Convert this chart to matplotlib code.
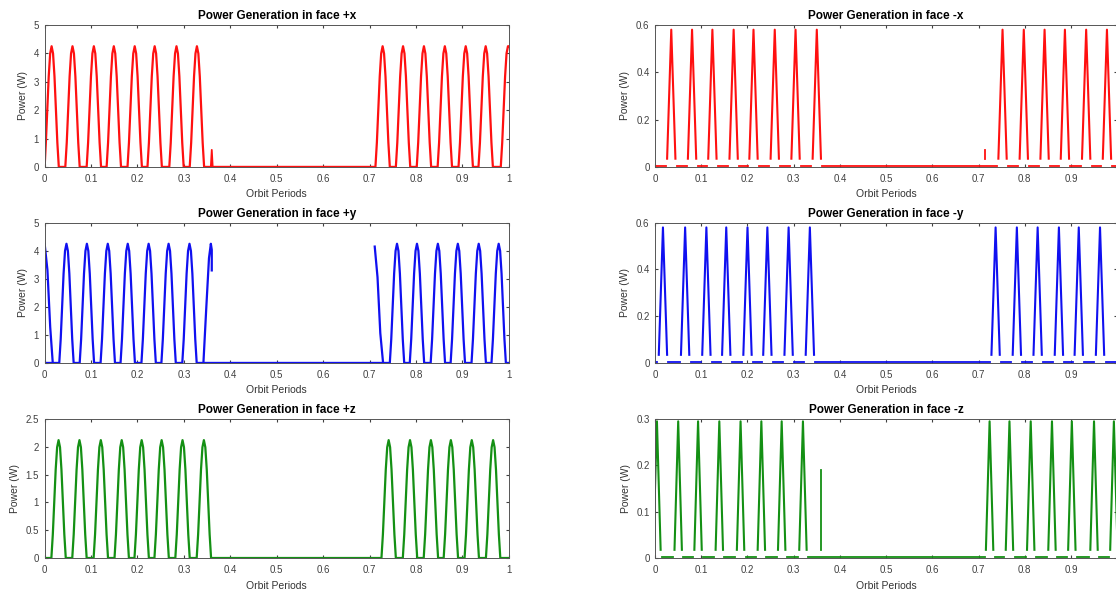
import matplotlib
matplotlib.use("Agg")
import matplotlib.pyplot as plt
import numpy as np

plt.rcParams["font.family"] = ["Liberation Sans", "DejaVu Sans"]

# peak positions (orbit periods)
px_peaks = [0.015, 0.060, 0.106, 0.149, 0.194, 0.237, 0.284, 0.328,
            0.728, 0.772, 0.817, 0.862, 0.907, 0.950, 0.998]
py_peaks = [0.047, 0.091, 0.136, 0.179, 0.224, 0.267, 0.312,
            0.759, 0.802, 0.847, 0.890, 0.935, 0.978]
pz_peaks = [0.030, 0.075, 0.121, 0.166, 0.209, 0.252, 0.297, 0.343,
            0.741, 0.787, 0.832, 0.875, 0.920, 0.966]
mx_peaks = [0.035, 0.080, 0.124, 0.170, 0.213, 0.259, 0.304, 0.350,
            0.752, 0.798, 0.843, 0.887, 0.933, 0.978]
my_peaks = [0.017, 0.065, 0.111, 0.154, 0.200, 0.243, 0.289, 0.335,
            0.737, 0.783, 0.828, 0.874, 0.917, 0.963]
mz_peaks = [0.004, 0.050, 0.093, 0.139, 0.185, 0.230, 0.274, 0.320,
            0.724, 0.767, 0.813, 0.859, 0.902, 0.950, 0.993]

# peak power (W)
px_max, py_max, pz_max = 4.25, 4.25, 2.12
mx_max, my_max, mz_max = 0.58, 0.58, 0.295

# stray partial peaks (x, height)
px_stray = (0.360, 0.6)
mx_stray = (0.715, 0.073)
mz_stray = (0.359, 0.19)

# relative bump profile of one pulse, read from the wide pulses
bump_frac = [0.0, 0.1, 0.2, 0.3, 0.4, 0.5, 0.6, 0.7, 0.8, 0.9, 1.0]
bump_rel = [0.0, 0.2, 0.48, 0.75, 0.94, 1.0, 0.94, 0.75, 0.48, 0.2, 0.0]

xtick_vals = [0, 0.1, 0.2, 0.3, 0.4, 0.5, 0.6, 0.7, 0.8, 0.9, 1.0]
xtick_left = ["0", "0.1", "0.2", "0.3", "0.4", "0.5", "0.6", "0.7", "0.8", "0.9", "1"]
xtick_right = ["0", "0.1", "0.2", "0.3", "0.4", "0.5", "0.6", "0.7", "0.8", "0.9", ""]

RED, BLUE, GREEN = "#ff1010", "#1010f0", "#149014"


def wide_curve(peaks, top, half=0.0155):
    xs, ys = [0.0], [0.0]
    for p in peaks:
        for f, r in zip(bump_frac, bump_rel):
            x = p - half + 2 * half * f
            if 0 <= x <= 1:
                xs.append(x); ys.append(r * top)
    xs.append(1.0); ys.append(ys[-1] if xs[-2] > 0.995 else 0.0)
    return xs, ys


def style(ax, title, yticks, ylim, xlabels):
    ax.set_xlim(0, 1); ax.set_ylim(*ylim)
    ax.set_xticks(xtick_vals)
    ax.set_xticklabels(xlabels)
    ax.set_yticks(yticks)
    ax.set_yticklabels([f"{t:g}" for t in yticks])
    ax.tick_params(direction="in", length=2.5, labelsize=7, colors="#404040",
                   top=True, right=True)
    ax.tick_params(axis="x", pad=5)
    ax.tick_params(axis="y", pad=4)
    for s in ax.spines.values():
        s.set_color("#555555"); s.set_linewidth(0.7)
    ax.set_title(title, fontsize=8.5, fontweight="bold", pad=4)
    ax.set_xlabel("Orbit Periods", fontsize=7.5, color="#333333", labelpad=4)
    ax.set_ylabel("Power (W)", fontsize=7.5, color="#333333", labelpad=4)


fig = plt.figure(figsize=(11.16, 5.94), dpi=100)
rows = [(0.719, 0.239), (0.389, 0.236), (0.0606, 0.234)]
L = [fig.add_axes([0.040, b, 0.416, h]) for b, h in rows]
R = [fig.add_axes([0.587, b, 0.414, h]) for b, h in rows]

# +x
x, y = wide_curve(px_peaks, px_max)
L[0].plot(x, y, color=RED, lw=1.6)
L[0].plot([px_stray[0] - 0.002, px_stray[0], px_stray[0] + 0.002], [0, px_stray[1], 0], color=RED, lw=1.3)
style(L[0], "Power Generation in face +x", [0, 1, 2, 3, 4, 5], (0, 5), xtick_left)

# +y: partial pulses at the eclipse edges
x, y = wide_curve(py_peaks, py_max)
L[1].plot(x, y, color=BLUE, lw=1.6)
L[1].plot([0.0, 0.006, 0.012, 0.0175], [py_max, 0.78 * py_max, 0.3 * py_max, 0], color=BLUE, lw=1.6)
L[1].plot([0.342, 0.348, 0.354, 0.358, 0.360, 0.360], [0, 0.45 * py_max, 0.88 * py_max, py_max, 0.95 * py_max, 3.3],
          color=BLUE, lw=1.6)
L[1].plot([0.711, 0.717, 0.723, 0.729], [4.15, 0.72 * py_max, 0.25 * py_max, 0], color=BLUE, lw=1.6)
style(L[1], "Power Generation in face +y", [0, 1, 2, 3, 4, 5], (0, 5), xtick_left)

# +z
x, y = wide_curve(pz_peaks, pz_max)
L[2].plot(x, y, color=GREEN, lw=1.6)
style(L[2], "Power Generation in face +z", [0, 0.5, 1, 1.5, 2, 2.5], (0, 2.5), xtick_left)


def spikes(ax, peaks, top, color, stray=None, half=0.009, floor_frac=0.06):
    floor = floor_frac * top
    edges = [0.0]
    for p in peaks:
        ax.plot([p - half, p, p + half], [floor, top, floor], color=color, lw=1.5)
        edges += [p - half - 0.003, p + half + 0.003]
    edges.append(1.0)
    for a, b in zip(edges[::2], edges[1::2]):
        if b > a:
            ax.plot([a, b], [0.004 * top, 0.004 * top], color=color, lw=1.3)
    if stray is not None:
        ax.plot([stray[0], stray[0]], [floor, stray[1]], color=color, lw=1.3)


spikes(R[0], mx_peaks, mx_max, RED, mx_stray)
style(R[0], "Power Generation in face -x", [0, 0.2, 0.4, 0.6], (0, 0.6), xtick_right)
spikes(R[1], my_peaks, my_max, BLUE)
R[1].plot([0.999, 0.999], [0.035, 0.3], color=BLUE, lw=1.3)
style(R[1], "Power Generation in face -y", [0, 0.2, 0.4, 0.6], (0, 0.6), xtick_right)
spikes(R[2], mz_peaks, mz_max, GREEN, mz_stray, half=0.008)
style(R[2], "Power Generation in face -z", [0, 0.1, 0.2, 0.3], (0, 0.3), xtick_right)

fig.savefig("out.png", dpi=100)
